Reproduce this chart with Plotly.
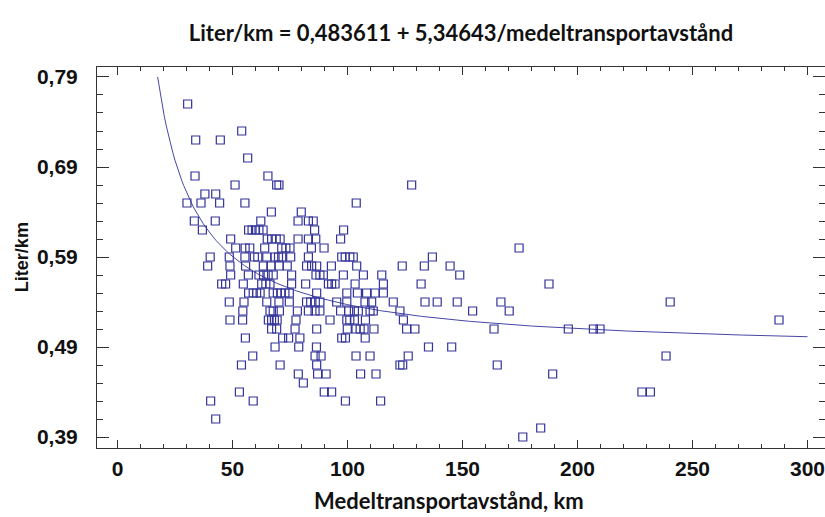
import plotly.graph_objects as go

# Fitted model from the chart title: Liter/km = a + b / distance
fit_a = 0.483611
fit_b = 5.34643
fit_x_start = 17.45
fit_x_end = 300.0

# Observed points, grouped by Liter/km level (y) with the distances (x) at that level
row_liter = [0.76, 0.73, 0.72, 0.70, 0.68, 0.67, 0.66, 0.65, 0.64, 0.63,
             0.62, 0.61, 0.60, 0.59, 0.58, 0.57, 0.56, 0.55, 0.54, 0.53,
             0.52, 0.51, 0.50, 0.49, 0.48, 0.47, 0.46, 0.45, 0.44, 0.43,
             0.41, 0.40, 0.39]
row_distance = [
    [30.5],
    [54.0],
    [34.0, 44.7],
    [56.6],
    [33.7, 65.4],
    [51.1, 69.2, 70.2, 127.9],
    [38.0, 42.7],
    [30.2, 36.3, 44.4, 55.4, 103.8],
    [66.9, 79.9],
    [33.4, 42.5, 62.3, 78.5, 83.0, 85.1],
    [36.9, 57.0, 58.5, 60.0, 61.5, 63.3, 85.7, 98.3],
    [49.2, 65.1, 67.0, 69.0, 70.7, 78.5, 83.0, 86.2, 97.0],
    [51.4, 55.5, 57.5, 64.0, 71.4, 73.2, 75.0, 84.3, 89.8, 174.6],
    [40.3, 48.6, 55.4, 59.5, 61.0, 64.9, 68.5, 70.0, 71.4, 75.3, 83.0, 97.5, 99.0, 101.0, 102.5, 136.9],
    [39.2, 48.9, 55.7, 63.4, 66.7, 70.3, 73.8, 82.2, 84.4, 86.6, 93.0, 104.0, 123.8, 133.4, 144.6],
    [49.2, 56.9, 61.5, 63.5, 65.5, 67.7, 75.7, 86.3, 88.0, 89.5, 98.2, 106.9, 114.9, 148.8],
    [45.3, 47.0, 54.7, 62.7, 64.5, 66.3, 75.7, 81.8, 91.7, 93.1, 94.6, 103.3, 115.6, 132.0, 187.6],
    [57.0, 59.0, 60.5, 62.0, 67.7, 69.5, 71.0, 72.8, 74.7, 86.6, 99.7, 104.3, 108.3, 112.0, 115.6],
    [48.6, 55.0, 64.9, 70.2, 74.7, 82.2, 84.0, 86.0, 88.0, 95.3, 99.7, 107.6, 110.5, 119.9, 133.7, 139.0, 147.7, 166.7, 240.3],
    [54.5, 66.3, 67.7, 70.4, 78.2, 83.0, 85.9, 88.0, 97.0, 100.5, 103.0, 104.7, 109.8, 111.2, 122.8, 154.4, 170.3],
    [48.9, 54.4, 65.6, 67.0, 68.2, 69.4, 77.6, 92.4, 99.7, 101.0, 103.0, 107.8, 124.3, 287.6],
    [67.0, 69.2, 77.2, 86.6, 99.9, 103.7, 105.5, 107.2, 111.5, 125.7, 129.3, 163.7, 196.0, 206.9, 209.8],
    [55.6, 71.8, 74.4, 79.3, 97.5, 99.1, 107.7],
    [68.5, 78.8, 86.5, 135.2, 145.3],
    [58.8, 85.9, 88.5, 103.7, 109.8, 126.4, 238.5],
    [53.9, 70.7, 86.6, 122.8, 124.0, 165.1],
    [78.6, 87.0, 90.7, 105.7, 112.4, 189.2],
    [80.8],
    [53.0, 89.9, 93.1, 228.0, 231.7],
    [40.5, 59.0, 99.1, 114.4],
    [42.7],
    [184.0],
    [176.2],
]

x_tick_vals = [0, 50, 100, 150, 200, 250, 300]
y_tick_vals = [0.39, 0.49, 0.59, 0.69, 0.79]

title_text = "Liter/km = 0,483611 + 5,34643/medeltransportavstånd"
x_title = "Medeltransportavstånd, km"
y_title = "Liter/km"

# flatten points
pts_x, pts_y = [], []
for yv, xs in zip(row_liter, row_distance):
    for xv in xs:
        pts_x.append(xv)
        pts_y.append(yv)

n = 300
fit_x = [fit_x_start + (fit_x_end - fit_x_start) * i / (n - 1) for i in range(n)]
fit_y = [fit_a + fit_b / v for v in fit_x]

marker_color = "#33339a"
axis_color = "#333333"

fig = go.Figure()
fig.add_trace(go.Scatter(
    x=fit_x, y=fit_y, mode="lines",
    line=dict(color="#4646a6", width=1), hoverinfo="skip", showlegend=False))
fig.add_trace(go.Scatter(
    x=pts_x, y=pts_y, mode="markers",
    marker=dict(symbol="square-open", size=8, color=marker_color, line=dict(width=1.2, color=marker_color)),
    showlegend=False))

tick_font = dict(family="Liberation Sans Narrow, Arial Narrow, Liberation Sans, sans-serif", size=21,
                 color="#111111", weight="bold")
label_font = dict(family="Lato, sans-serif", size=22, color="#111111", weight="bold")

fig.update_layout(
    width=825, height=517,
    margin=dict(l=97, r=0, t=67, b=69),
    paper_bgcolor="white", plot_bgcolor="white",
    separators=", ",
    title=dict(text=title_text, x=0.5, xref="paper", y=1 - 33 / 517, yref="container",
               xanchor="center", yanchor="middle", font=label_font),
    xaxis=dict(range=[-8.91, 307.6], tickvals=x_tick_vals, ticks="inside", ticklen=8, tickwidth=1,
               tickcolor=axis_color, showline=True, linecolor=axis_color, linewidth=1,
               mirror="allticks", showgrid=False, zeroline=False, tickfont=tick_font,
               ticklabelstandoff=2, ticklabeloverflow="allow",
               minor=dict(dtick=10, tick0=0, ticks="inside", ticklen=4, tickcolor=axis_color, showgrid=False)),
    yaxis=dict(range=[0.3778, 0.8011], tickvals=y_tick_vals, tickformat=".2f", ticks="inside", ticklen=12,
               tickwidth=1, tickcolor=axis_color, showline=True, linecolor=axis_color, linewidth=1,
               mirror="allticks", showgrid=False, zeroline=False, tickfont=tick_font,
               minor=dict(dtick=0.02, tick0=0.39, ticks="inside", ticklen=6, tickcolor=axis_color, showgrid=False),
               ticklabelstandoff=14, ticklabeloverflow="allow"),
    annotations=[
        dict(text=x_title, xref="paper", yref="paper", x=0.4835, y=-0.1365, xanchor="center",
             yanchor="middle", showarrow=False, font=label_font),
        dict(text=y_title, xref="paper", yref="paper", x=-0.103, y=0.501, xanchor="center",
             yanchor="middle", textangle=-90, showarrow=False,
             font=dict(family="Liberation Sans, Arial, sans-serif", size=18, color="#111111", weight="bold")),
    ],
)

fig.write_html("out.html")
